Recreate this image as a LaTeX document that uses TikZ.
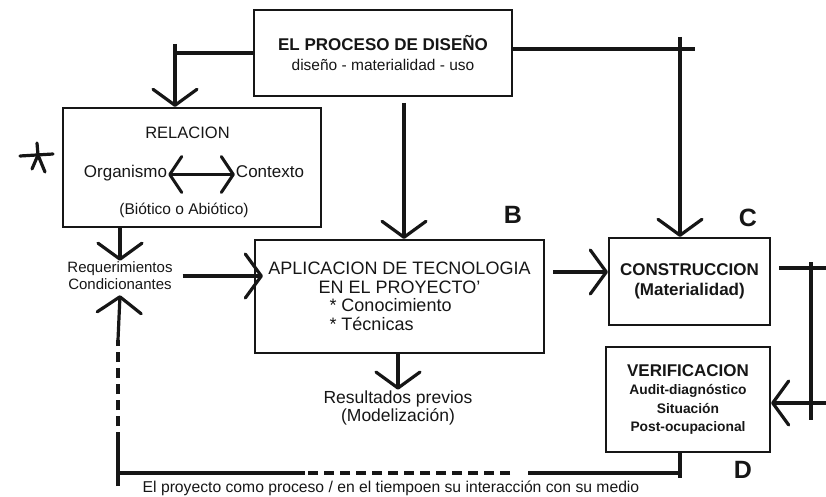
\documentclass[tikz,border=0pt]{standalone}
\usepackage{fontspec}
\setmainfont{Liberation Sans}
\usetikzlibrary{arrows.meta, positioning, calc}
\definecolor{sketchInk}{HTML}{161616}
\newcommand{\fsz}[2]{\fontsize{#1}{#2}\selectfont}

\begin{document}
\begin{tikzpicture}[x=1pt, y=-1pt,
  box/.style={draw=sketchInk, line width=2.2pt, align=center, inner sep=0pt, text=sketchInk},
  lbl/.style={align=center, inner sep=1pt, text=sketchInk},
  hand/.style={text=sketchInk, inner sep=0pt, font=\bfseries\fsz{25}{25}},
  a/.style={-{Straight Barb[length=16pt, width=44pt, round]}, line width=3.2pt, draw=sketchInk},
  aa/.style={{Straight Barb[length=12pt, width=36pt, round]}-{Straight Barb[length=12pt, width=36pt, round]},
             line width=3pt, draw=sketchInk},
  ln/.style={line width=3.2pt, draw=sketchInk},
  dsh/.style={line width=4pt, draw=sketchInk, dash pattern=on 10pt off 6pt}
]
\useasboundingbox (0,0) rectangle (826,497);

% boxes and texts
\node[box, minimum width=258pt, minimum height=86pt, font=\fsz{15.5}{20}] (proceso) at (383,53)
  {{\bfseries\fsz{17}{20}EL PROCESO DE DISEÑO}\\diseño - materialidad - uso};
\node[box, minimum width=258pt, minimum height=119pt] (relacion) at (192,167.5) {};
\node[lbl, anchor=base, font=\fsz{16.5}{20}] (reltitulo) at (187.5,139) {RELACION};
\node[lbl, anchor=base, font=\fsz{17}{20}, text height=0.75em, text depth=0.25em] (organismo) at (125.5,177) {Organismo};
\node[lbl, anchor=base, font=\fsz{17}{20}, text height=0.75em, text depth=0.25em] (contexto) at (270,177) {Contexto};
\node[lbl, anchor=base, font=\fsz{15.5}{20}] (biotico) at (184,214) {(Biótico o Abiótico)};
\node[lbl, font=\fsz{15}{17}] (requer) at (120,276) {Requerimientos\\Condicionantes};
\node[box, minimum width=289pt, minimum height=113pt, font=\fsz{18}{18.5}] (aplicacion) at (399.5,296.5)
  {APLICACION DE TECNOLOGIA\\EN EL PROYECTO'\\\makebox[140pt][l]{* Conocimiento}\\\makebox[140pt][l]{* Técnicas}};
\node[lbl, font=\fsz{17.5}{18}] (resultados) at (398,408) {Resultados previos\\(Modelización)};
\node[box, minimum width=161pt, minimum height=87pt, font=\bfseries\fsz{17}{20}] (construccion) at (689.5,281.5)
  {CONSTRUCCION\\(Materialidad)};
\node[box, minimum width=164pt, minimum height=105pt, font=\bfseries\fsz{13.8}{18.5}] (verificacion) at (688,399.5)
  {{\fsz{17}{18.5}VERIFICACION}\\Audit-diagnóstico\\Situación\\Post-ocupacional};
\node[lbl, font=\fsz{15.7}{17}] (pie) at (391,488) {El proyecto como proceso / en el tiempoen su interacción con su medio};

% hand letters
\node[hand] (letraB) at (513,215) {B};
\node[hand] (letraC) at (748,218) {C};
\node[hand] (letraD) at (743,470) {D};

% asterisk mark
\draw[ln, line cap=round] (20,156) -- (53,154);
\draw[ln, line cap=round] (37,143) -- (38,155) -- (32,169);
\draw[ln, line cap=round] (38,155) -- (45,172);

% free ends and bends
\coordinate (kLeft) at (175,44);
\coordinate (kMid) at (404,103);
\coordinate (kRight) at (680,37);
\coordinate (kRightEnd) at (695,49);
\coordinate (kAC) at (553,272);
\coordinate (kEdgeA) at (826,268);
\coordinate (kEdgeB) at (826,403);
\coordinate (kLoopTop) at (811,262);
\coordinate (kLoopBot) at (811,420);
\coordinate (kVerDown) at (680,478);
\coordinate (kB1) at (680,473);
\coordinate (kB2) at (528,473);
\coordinate (kB3) at (510,473);
\coordinate (kB4) at (305,473);
\coordinate (kCorner) at (118,473);
\coordinate (kL0) at (118,486);
\coordinate (kL1) at (118,442);
\coordinate (kL2) at (118,340);

% connectors
\draw[ln] (proceso.west) -- (proceso.west -| kLeft);
\draw[a] (kLeft) -- (kLeft |- relacion.north);
\draw[ln] ([yshift=4pt]proceso.east) -- ([yshift=4pt]proceso.east -| kRightEnd);
\draw[a] (kRight) -- (kRight |- construccion.north);
\draw[a] (kMid) -- (kMid |- aplicacion.north);
\draw[aa] (organismo) -- (contexto);
\draw[a] (requer |- relacion.south) -- (requer.north);
\draw[a] ([xshift=9pt]requer.east) -- ([xshift=9pt]requer.east -| aplicacion.west);
\draw[a] (kAC) -- (kAC -| construccion.west);
\draw[a] (aplicacion.south -| resultados) -- (resultados.north);
\draw[ln] ([xshift=8pt]construccion.east |- kEdgeA) -- (kEdgeA);
\draw[ln] (kLoopTop) -- (kLoopBot);
\draw[a] (kEdgeB) -- (kEdgeB -| verificacion.east);
\draw[ln] (verificacion.south -| kVerDown) -- (kVerDown);
\draw[ln] (kB1) -- (kB2);
\draw[dsh] (kB3) -- (kB4);
\draw[ln] (kB4) -- (kCorner);
\draw[ln] (kL0) -- (kL1);
\draw[dsh] (kL1) -- (kL2);
\draw[a] (kL2) -- ([yshift=-4pt]requer.south);
\end{tikzpicture}
\end{document}
